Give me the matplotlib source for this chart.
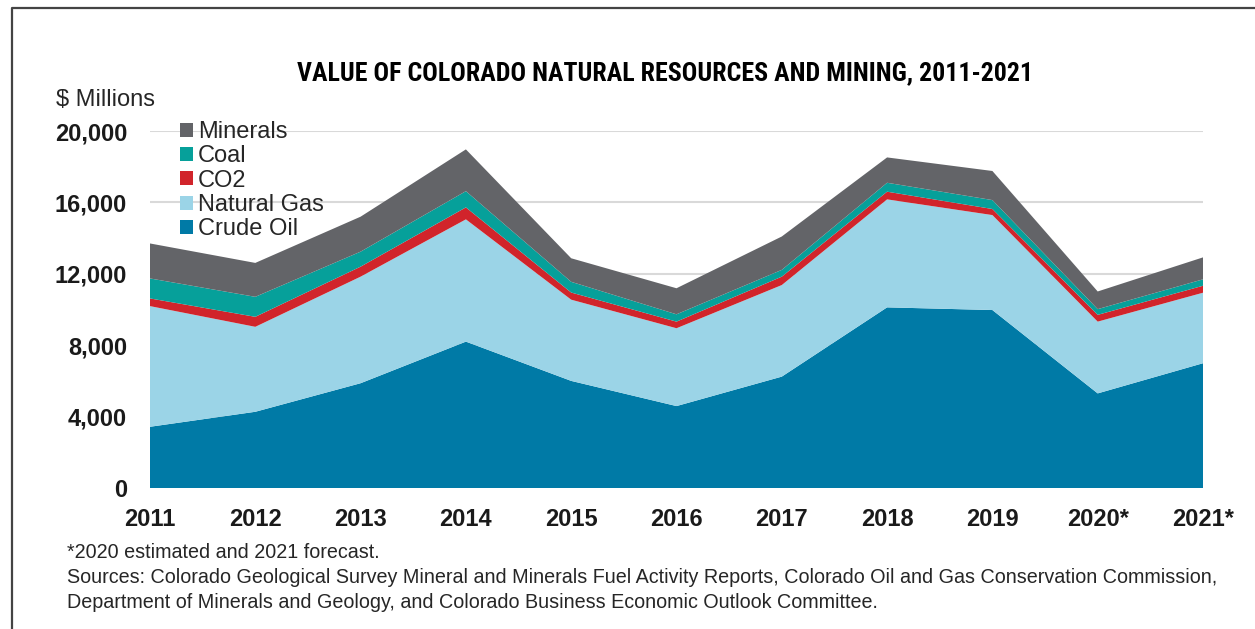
import matplotlib
matplotlib.use('Agg')
import matplotlib.pyplot as plt
from matplotlib.patches import Patch
from matplotlib.lines import Line2D
from matplotlib import font_manager as fm

# ---------------- data ----------------
years = [2011, 2012, 2013, 2014, 2015, 2016, 2017, 2018, 2019, 2020, 2021]
year_labels = ['2011', '2012', '2013', '2014', '2015', '2016', '2017', '2018', '2019', '2020*', '2021*']
crude_oil = [3430, 4270, 5870, 8200, 6000, 4590, 6240, 10120, 9970, 5300, 6990]
natural_gas = [6760, 4760, 5970, 6850, 4550, 4360, 5130, 6050, 5320, 4020, 3950]
co2 = [430, 560, 560, 670, 400, 370, 470, 430, 340, 380, 390]
coal = [1120, 1120, 840, 910, 600, 410, 380, 500, 500, 320, 360]
minerals = [1960, 1900, 1960, 2340, 1320, 1460, 1870, 1420, 1630, 990, 1230]

series_names = ['Crude Oil', 'Natural Gas', 'CO2', 'Coal', 'Minerals']
series_colors = ['#007aa6', '#9bd4e7', '#d1242b', '#06a09a', '#636468']
y_ticks = [0, 4000, 8000, 12000, 16000, 20000]
y_tick_labels = ['0', '4,000', '8,000', '12,000', '16,000', '20,000']

title = 'VALUE OF COLORADO NATURAL RESOURCES AND MINING, 2011-2021'
footnotes = [
    '*2020 estimated and 2021 forecast.',
    'Sources: Colorado Geological Survey Mineral and Minerals Fuel Activity Reports, Colorado Oil and Gas Conservation Commission,',
    'Department of Minerals and Geology, and Colorado Business Economic Outlook Committee.',
]

# ---------------- fonts ----------------
def available(name):
    try:
        fm.findfont(fm.FontProperties(family=name), fallback_to_default=False)
        return True
    except Exception:
        return False

base_font = 'Liberation Sans' if available('Liberation Sans') else 'DejaVu Sans'
title_font, title_size = base_font, 15.5
for cand in ['Liberation Sans Narrow', 'Roboto Condensed', 'Open Sans Condensed', 'DejaVu Sans Condensed']:
    if available(cand):
        title_font, title_size = cand, 18.6
        break
plt.rcParams['font.family'] = [base_font, 'DejaVu Sans']

W, H = 1255, 629
fig = plt.figure(figsize=(W / 100, H / 100), dpi=100)
fig.patch.set_facecolor('white')

def fx(px):
    return px / W

def fy(py):
    return 1 - py / H

ax = fig.add_axes([fx(150), fy(488), fx(1203) - fx(150), fy(131) - fy(488)])

ax.stackplot(years, crude_oil, natural_gas, co2, coal, minerals,
             colors=series_colors, linewidth=0, zorder=2)

ax.set_xlim(years[0], years[-1])
ax.set_ylim(0, 20000)
ax.set_yticks(y_ticks)
ax.set_yticklabels(y_tick_labels)
ax.set_xticks(years)
ax.set_xticklabels(year_labels)
ax.tick_params(axis='both', length=0, labelsize=17, colors='#1a1a1a')
ax.tick_params(axis='y', pad=16.5)
ax.tick_params(axis='x', pad=14.5)
for lab in ax.get_xticklabels() + ax.get_yticklabels():
    lab.set_fontweight('bold')
for s in ax.spines.values():
    s.set_visible(False)
ax.set_axisbelow(True)
ax.yaxis.grid(True, color='#d9d9d9', linewidth=1.5, zorder=0)
ax.xaxis.grid(False)

# legend (top entry = top layer)
handles = [Patch(facecolor=c, edgecolor='none') for c in series_colors][::-1]
labels = series_names[::-1]
leg = ax.legend(handles, labels, loc='upper left',
                bbox_to_anchor=((180 - 150) / 1053, (488 - 121) / 357),
                frameon=False, fontsize=17, handlelength=0.55, handleheight=0.55,
                handletextpad=0.2, labelspacing=0.1, borderpad=0, borderaxespad=0)
for t in leg.get_texts():
    t.set_color('#262626')

# title and labels
fig.text(fx(665), fy(73), title, ha='center', va='center', fontsize=title_size,
         fontweight='bold', family=[title_font, 'DejaVu Sans'], color='black')
fig.text(fx(56), fy(100), '$ Millions', ha='left', va='center', fontsize=17, color='#262626')

for i, line in enumerate(footnotes):
    fig.text(fx(67), fy(553 + 24.5 * i), line, ha='left', va='center', fontsize=14.2, color='#262626')

# border
fig.add_artist(Line2D([fx(12), fx(12), fx(1255)], [fy(629), fy(7.5), fy(7.5)],
                      transform=fig.transFigure, color='#444444', linewidth=1.6))

fig.savefig('out.png', dpi=100, facecolor='white')
